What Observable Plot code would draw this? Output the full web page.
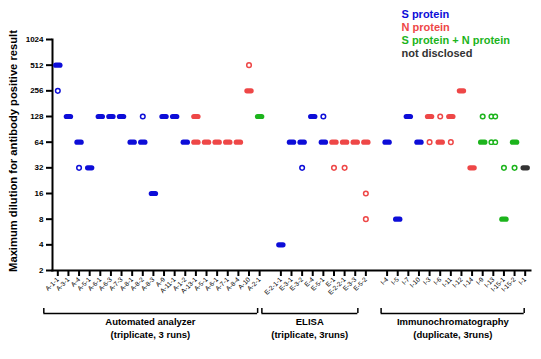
<!DOCTYPE html>
<html><head><meta charset="utf-8">
<script src="https://cdn.jsdelivr.net/npm/d3@7"></script>
<script src="https://cdn.jsdelivr.net/npm/@observablehq/plot@0.6"></script>
<style>body{margin:0;background:#fff;font-family:"Liberation Sans",Arial,sans-serif}</style>
</head><body><div id="chart"></div>
<script>
// x categories (""= gap between groups)
const categories = ["A-1-1","A-3-1","A-4","A-5-1","A-6-1","A-6-3","A-7-3","A-8-1","A-8-2","A-8-3","A-9","A-11-1","A-1-2","A-13-1","A-5-1","A-6-1","A-7-1","A-8-4","A-10","A-2-1","",
"E-2-1-1","E-3-1","E-3-2","E-4","E-5-1","E-1","E-2-2-1","E-3-3","E-5-2","",
"I-4","I-5","I-7","I-10","I-3","I-6","I-11","I-12","I-14","I-9","I-13","I-15-1","I-15-2","I-1"];
// antigen of each category
const antigen = ["S","S","S","S","S","S","S","S","S","S","S","S","S","N","N","N","N","N","N","SN","",
"S","S","S","S","S","N","N","N","N","",
"S","S","S","S","N","N","N","N","N","SN","SN","SN","SN","ND"];
// [category index, max dilution] — filled (majority of replicates)
const filledPoints = [[0,512],[1,128],[2,64],[3,32],[4,128],[5,128],[6,128],[7,64],[8,64],[9,16],[10,128],[11,128],[12,64],[13,128],[13,64],[14,64],[15,64],[16,64],[17,64],[18,256],[19,128],
[21,4],[22,64],[23,64],[24,128],[25,64],[26,64],[27,64],[28,64],[29,64],
[31,64],[32,8],[33,128],[34,64],[35,128],[36,64],[37,128],[38,256],[39,32],[40,64],[42,8],[43,64],[44,32]];
// open markers (single replicates)
const openPoints = [[0,256],[2,32],[8,128],[18,512],[23,32],[25,128],[26,32],[27,32],[29,16],[29,8],[35,64],[36,128],[37,64],[40,128],[42,32],[43,32]];
// paired open markers
const pairPoints = [[41,128],[41,64]];
const yTicks = [2,4,8,16,32,64,128,256,512,1024];
const legendKeys = ["S","N","SN","ND"];
const legendLabels = ["S protein","N protein","S protein + N protein","not disclosed"];
const legendColors = ["#0d0dd8","#ee4747","#1cb41c","#333333"];
const groupNames = ["Automated analyzer\n(triplicate, 3 runs)","ELISA\n(triplicate, 3runs)","Immunochromatography\n(duplicate, 3runs)"];
const groupFirst = [0,21,31];
const groupLast = [19,29,44];
const groupMid = [9,24,37];
const yLabel = "Maximum dilution for antibody positive result";

// styles
const bracketStyle = [{l:-14,r:2,tdx:-3},{l:-19,r:8,tdx:-3},{l:-6,r:1,tdx:2}];
const pill = {draw(ctx){const r=2.6,w=2.1;ctx.moveTo(-w,-r);ctx.lineTo(w,-r);ctx.arc(w,0,r,-Math.PI/2,Math.PI/2);ctx.lineTo(-w,r);ctx.arc(-w,0,r,Math.PI/2,3*Math.PI/2);ctx.closePath();}};
const tickIdx = d3.range(categories.length).filter(i => categories[i] !== "");

const marks = [
  Plot.frame({anchor:"left", strokeWidth:2}),
  Plot.frame({anchor:"bottom", strokeWidth:2}),
  Plot.axisY({ticks: yTicks, tickFormat: d => String(d), tickSize: 6, tickPadding: 3, fontSize: 8, fontWeight: "bold", strokeWidth: 2, label: null}),
  Plot.axisX({ticks: tickIdx, tickFormat: i => categories[i], tickRotate: -45, tickSize: 6, tickPadding: 2, fontSize: 6.5, strokeWidth: 2, label: null}),
  Plot.text([yLabel], {frameAnchor:"left", rotate:-90, dx:-39, dy:-4, fontSize:11.2, fontWeight:"bold", textAnchor:"middle", lineAnchor:"middle"}),
  Plot.dot(filledPoints, {x: d => d[0], y: d => d[1], symbol: pill, fill: d => antigen[d[0]], stroke: "none"}),
  Plot.dot(openPoints, {x: d => d[0], y: d => d[1], r: 2.3, stroke: d => antigen[d[0]], fill: "white", strokeWidth: 1.5}),
  Plot.dot(pairPoints, {x: d => d[0], y: d => d[1], r: 2.2, dx: -2, stroke: d => antigen[d[0]], fill: "white", strokeWidth: 1.4}),
  Plot.dot(pairPoints, {x: d => d[0], y: d => d[1], r: 2.2, dx: 2, stroke: d => antigen[d[0]], fill: "white", strokeWidth: 1.4})
];
groupNames.forEach((g, i) => {
  const s = bracketStyle[i];
  marks.push(Plot.ruleY([i], {x1: j => groupFirst[j], x2: j => groupLast[j], y: () => 2, dy: 43, insetLeft: s.l, insetRight: s.r, strokeWidth: 1.5}));
  marks.push(Plot.ruleX([i], {x: j => groupFirst[j], y1: () => 2, y2: () => 2, dy: 38, dx: s.l, insetBottom: -5, strokeWidth: 1.5}));
  marks.push(Plot.ruleX([i], {x: j => groupLast[j], y1: () => 2, y2: () => 2, dy: 38, dx: -s.r, insetBottom: -5, strokeWidth: 1.5}));
  marks.push(Plot.text([i], {x: j => groupMid[j], y: () => 2, text: j => groupNames[j], dy: 57, dx: s.tdx, lineAnchor: "middle", lineHeight: 1.4, fontSize: 9.5, fontWeight: "bold"}));
});
legendLabels.forEach((t, i) => {
  marks.push(Plot.text([t], {frameAnchor: "top-left", dx: 349, dy: -25 + i * 13, textAnchor: "start", lineAnchor: "middle", fill: legendColors[i], fontSize: 11, fontWeight: "bold"}));
});

const chart = Plot.plot({
  width: 541, height: 359,
  marginLeft: 52, marginRight: 11, marginTop: 39, marginBottom: 89,
  style: {fontFamily: "'Liberation Sans', Arial, sans-serif", color: "black", background: "white"},
  x: {type: "point", domain: d3.range(categories.length), padding: 0.5, round: false},
  y: {type: "log", base: 2, domain: [2, 1024]},
  color: {domain: legendKeys, range: legendColors},
  marks
});
document.getElementById("chart").appendChild(chart);
</script>
</body></html>
